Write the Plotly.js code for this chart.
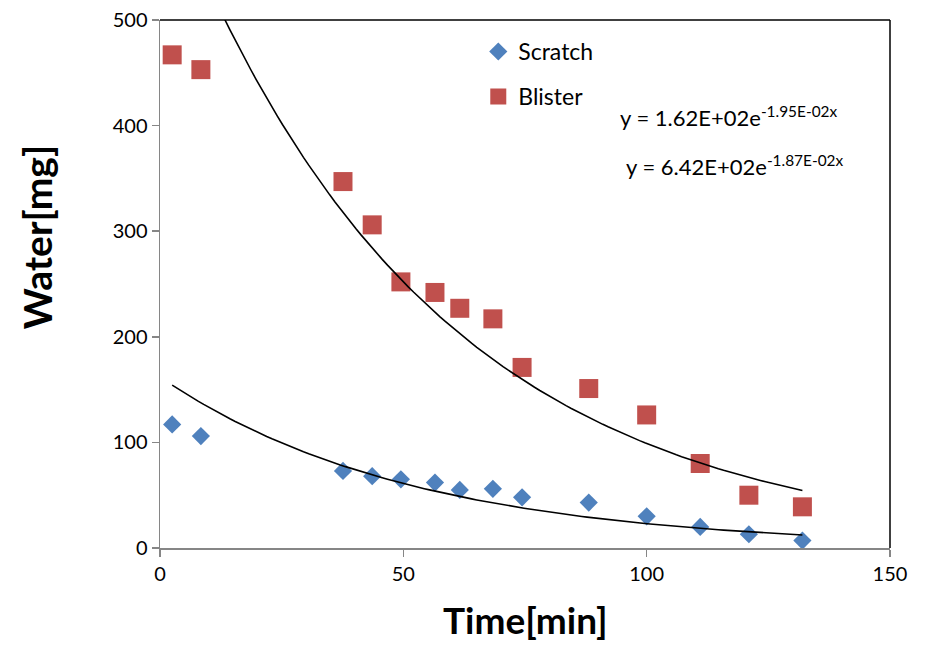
<!DOCTYPE html>
<html>
<head>
<meta charset="utf-8">
<script src="https://cdn.plot.ly/plotly-3.0.1.min.js"></script>
<style>html,body{margin:0;padding:0;background:#fff;}#chart{width:925px;height:646px;}</style>
</head>
<body>
<div id="chart"></div>
<script>
// Data
var timeMin = [2.5, 8.4, 37.6, 43.6, 49.5, 56.5, 61.6, 68.4, 74.4, 88.1, 100, 111, 121, 132];
var scratchWater = [117, 106, 73, 68, 65, 62, 55, 56, 48, 43, 30, 20, 13, 7];
var blisterWater = [467, 453, 347, 306, 252, 242, 227, 217, 171, 151, 126, 80, 50, 39];

// Exponential trendline coefficients shown on the chart
var scratchFit = {a: 162, b: -0.0195};
var blisterFit = {a: 642, b: -0.0187};

var xTicks = [0, 50, 100, 150];
var yTicks = [0, 100, 200, 300, 400, 500];

function fitCurve(fit) {
  var x0 = timeMin[0], x1 = timeMin[timeMin.length - 1];
  var xs = [], ys = [];
  var n = 120;
  for (var i = 0; i <= n; i++) {
    var x = x0 + (x1 - x0) * i / n;
    xs.push(x);
    ys.push(fit.a * Math.exp(fit.b * x));
  }
  return {x: xs, y: ys};
}

var sc = fitCurve(scratchFit), bc = fitCurve(blisterFit);
var FONT = 'Lato, "Open Sans", sans-serif';

var traces = [
  {x: timeMin, y: scratchWater, type: 'scatter', mode: 'markers', name: 'Scratch', legendgroup: 'a',
   marker: {symbol: 'diamond', size: 14, color: '#4F81BD'}},
  {x: timeMin, y: blisterWater, type: 'scatter', mode: 'markers', name: 'Blister', legendgroup: 'b',
   marker: {symbol: 'square', size: 19, color: '#C0504D'}},
  {x: sc.x, y: sc.y, type: 'scatter', mode: 'lines', showlegend: false, hoverinfo: 'skip',
   line: {color: '#000', width: 1.6}},
  {x: bc.x, y: bc.y, type: 'scatter', mode: 'lines', showlegend: false, hoverinfo: 'skip',
   line: {color: '#000', width: 1.6}}
];

var layout = {
  width: 925, height: 646,
  margin: {l: 160, r: 35, t: 20, b: 98},
  paper_bgcolor: '#fff', plot_bgcolor: '#fff',
  font: {family: FONT, size: 20, color: '#000'},
  showlegend: true,
  legend: {x: 0.436, y: 0.981, xanchor: 'left', yanchor: 'top', bgcolor: 'rgba(0,0,0,0)',
           font: {family: FONT, size: 23, color: '#000'}, traceorder: 'grouped', tracegroupgap: 12,
           itemwidth: 30},
  xaxis: {range: [0, 150], tickvals: xTicks, ticktext: xTicks.map(String), showgrid: false, zeroline: false,
          showline: true, linecolor: '#868686', linewidth: 1.5, ticks: 'outside', ticklen: 7,
          tickcolor: '#868686', tickwidth: 1.5, tickfont: {size: 20, family: FONT}},
  yaxis: {range: [0, 500], tickvals: yTicks, ticktext: yTicks.map(String), showgrid: false, zeroline: false,
          showline: true, linecolor: '#868686', linewidth: 1.5, ticks: 'outside', ticklen: 7,
          tickcolor: '#868686', tickwidth: 1.5, tickfont: {size: 20, family: FONT}},
  shapes: [
    {type: 'line', xref: 'paper', yref: 'paper', x0: 0, x1: 1, y0: 1, y1: 1, line: {color: '#000', width: 1.5}},
    {type: 'line', xref: 'paper', yref: 'paper', x0: 1, x1: 1, y0: 0, y1: 1, line: {color: '#000', width: 1.5}}
  ],
  annotations: [
    {xref: 'paper', yref: 'paper', x: 0.5, y: -0.135, xanchor: 'center', yanchor: 'middle',
     text: '<b>Time[min]</b>', showarrow: false, font: {size: 37, family: FONT, color: '#000'}},
    {xref: 'paper', yref: 'paper', x: -0.168, y: 0.589, xanchor: 'center', yanchor: 'middle',
     text: '<b>Water[mg]</b>', textangle: -90, showarrow: false, font: {size: 39, family: FONT, color: '#000'}},
    {xref: 'paper', yref: 'paper', x: 0.628, y: 0.849, xanchor: 'left', text: 'y = 1.62E+02e<sup>-1.95E-02x</sup>',
     showarrow: false, font: {size: 22, family: FONT, color: '#000'}},
    {xref: 'paper', yref: 'paper', x: 0.636, y: 0.756, xanchor: 'left', text: 'y = 6.42E+02e<sup>-1.87E-02x</sup>',
     showarrow: false, font: {size: 22, family: FONT, color: '#000'}}
  ]
};

Plotly.newPlot('chart', traces, layout, {displayModeBar: false, staticPlot: true});
</script>
</body>
</html>
